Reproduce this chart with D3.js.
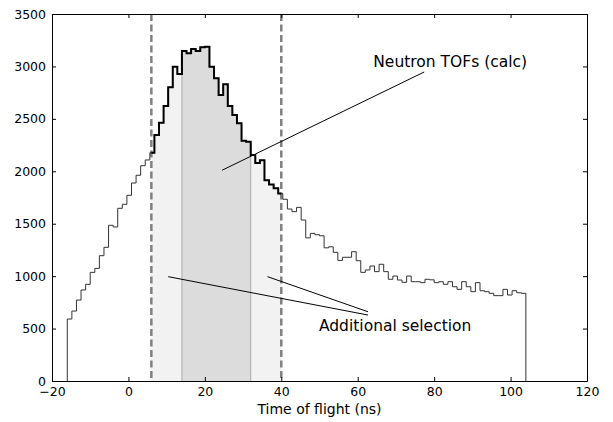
<!DOCTYPE html>
<meta charset="utf-8">
<script src="https://d3js.org/d3.v7.min.js"></script>
<body style="margin:0;background:#fff">
<div id="tof"></div>
</body>
<style>
text { font-family: "DejaVu Sans", sans-serif; }
.axis path { stroke: #000; }
.axis line { stroke: #000; }
.axis text { font-size: 12.5px; fill: #000; }
</style>
<script>

// histogram of time of flight, 100 bins of 1.2 ns starting at -16 ns
var binStart = -16, binWidth = 1.2
var counts = [
  591, 667, 772, 868, 922, 1036, 1074, 1195, 1275, 1485,
  1469, 1647, 1685, 1771, 1888, 1962, 2053, 2108, 2177, 2346,
  2463, 2623, 2801, 2998, 2928, 3147, 3125, 3166, 3147, 3182,
  3188, 2998, 2887, 2727, 2830, 2623, 2537, 2457, 2292, 2282,
  2155, 2080, 2105, 1914, 1874, 1838, 1787, 1733, 1640, 1615,
  1656, 1535, 1365, 1408, 1395, 1385, 1270, 1280, 1227, 1150,
  1180, 1180, 1233, 1147, 1036, 1059, 1097, 1043, 1113, 1043,
  970, 1001, 963, 941, 1001, 947, 947, 938, 970, 965,
  938, 947, 922, 947, 899, 874, 947, 899, 852, 938,
  861, 852, 836, 814, 814, 874, 820, 861, 842, 836
]

// selection windows (ns)
var cutLines = [6, 40]          // dashed lines
var calcRange = [6, 40]         // thick "Neutron TOFs (calc)"
var coreRange = [14, 32]        // darker band

var xTicks = [-20, 0, 20, 40, 60, 80, 100, 120]
var yTicks = [0, 500, 1000, 1500, 2000, 2500, 3000, 3500]

// annotations: text position, lines from point to end
var calcLabel = {text: "Neutron TOFs (calc)", at: [84.2, 2990], lines: [[[24.5, 2010], [77.4, 2947]]]}
var addLabel = {text: "Additional selection", at: [69.8, 477], lines: [[[10.4, 995], [62.7, 629]], [[36.4, 995], [62.7, 660]]]}

var margin = {top: 14, right: 26, bottom: 41, left: 52},
    width = 613 - margin.left - margin.right,
    height = 422 - margin.top - margin.bottom;

var svg = d3.select("#tof")
  .append("svg")
    .attr("width", width + margin.left + margin.right)
    .attr("height", height + margin.top + margin.bottom)
  .append("g")
    .attr("transform", "translate(" + margin.left + "," + margin.top + ")");

var x = d3.scaleLinear().domain([-20, 120]).range([0, width])
var y = d3.scaleLinear().domain([0, 3500]).range([height, 0])

var bins = counts.map(function(c, i) {
  return {lo: binStart + i * binWidth, hi: binStart + (i + 1) * binWidth, v: c}
})

// step outline between a and b, closed to the baseline when base is true
function stepPoints(a, b, base) {
  var pts = []
  bins.forEach(function(d) {
    if (d.hi <= a || d.lo >= b) return
    pts.push([Math.max(d.lo, a), d.v])
    pts.push([Math.min(d.hi, b), d.v])
  })
  if (base) {
    pts.unshift([a, 0])
    pts.push([b, 0])
  }
  return pts
}

var line = d3.line()
  .x(function(d) { return x(d[0]); })
  .y(function(d) { return y(d[1]); })

var histEnd = binStart + counts.length * binWidth

// light band
svg.append("path")
  .attr("d", line(stepPoints(calcRange[0], calcRange[1], true)) + "Z")
  .attr("fill", "#f2f2f2")

// darker band
svg.append("path")
  .attr("d", line(stepPoints(coreRange[0], coreRange[1], true)) + "Z")
  .attr("fill", "#dcdcdc")
coreRange.forEach(function(t) {
  var h = d3.min(bins.filter(function(d) { return d.lo <= t + 1e-6 && d.hi >= t - 1e-6; }), function(d) { return d.v; })
  svg.append("line")
    .attr("x1", x(t)).attr("x2", x(t))
    .attr("y1", y(0)).attr("y2", y(h))
    .attr("stroke", "#aaaaaa").attr("stroke-width", 1)
})

// dashed cuts
svg.selectAll("cuts")
  .data(cutLines)
  .enter()
  .append("line")
    .attr("x1", function(d) { return x(d); })
    .attr("x2", function(d) { return x(d); })
    .attr("y1", 0).attr("y2", height)
    .attr("stroke", "#808080")
    .attr("stroke-width", 2.5)
    .attr("stroke-dasharray", "7,3.5")

// full histogram
svg.append("path")
  .attr("d", line(stepPoints(binStart, histEnd, true)))
  .attr("fill", "none")
  .attr("stroke", "#333")
  .attr("stroke-width", 1)

// thick part
svg.append("path")
  .attr("d", line(stepPoints(calcRange[0], calcRange[1], false)))
  .attr("fill", "none")
  .attr("stroke", "#000")
  .attr("stroke-width", 2)

// axes, ticks pointing inwards on all four sides
svg.append("g").attr("class", "axis")
  .attr("transform", "translate(0," + height + ")")
  .call(d3.axisBottom(x).tickValues(xTicks).tickSizeInner(-4).tickSizeOuter(0).tickPadding(6))
svg.append("g").attr("class", "axis")
  .call(d3.axisLeft(y).tickValues(yTicks).tickFormat(d3.format("d")).tickSizeInner(-4).tickSizeOuter(0).tickPadding(6))
svg.append("g").attr("class", "axis")
  .call(d3.axisTop(x).tickValues(xTicks).tickSizeInner(-4).tickSizeOuter(0).tickFormat(""))
svg.append("g").attr("class", "axis")
  .attr("transform", "translate(" + width + ",0)")
  .call(d3.axisRight(y).tickValues(yTicks).tickSizeInner(-4).tickSizeOuter(0).tickFormat(""))

svg.append("text")
  .attr("text-anchor", "middle")
  .attr("x", width / 2)
  .attr("y", height + 33)
  .style("font-size", "14px")
  .text("Time of flight (ns)")

// annotations
;[calcLabel, addLabel].forEach(function(a) {
  a.lines.forEach(function(l) {
    svg.append("line")
      .attr("x1", x(l[0][0])).attr("y1", y(l[0][1]))
      .attr("x2", x(l[1][0])).attr("y2", y(l[1][1]))
      .attr("stroke", "#000").attr("stroke-width", 1)
  })
  svg.append("text")
    .attr("text-anchor", "middle")
    .attr("x", x(a.at[0]))
    .attr("y", y(a.at[1]))
    .style("font-size", "15.5px")
    .text(a.text)
})

</script>
